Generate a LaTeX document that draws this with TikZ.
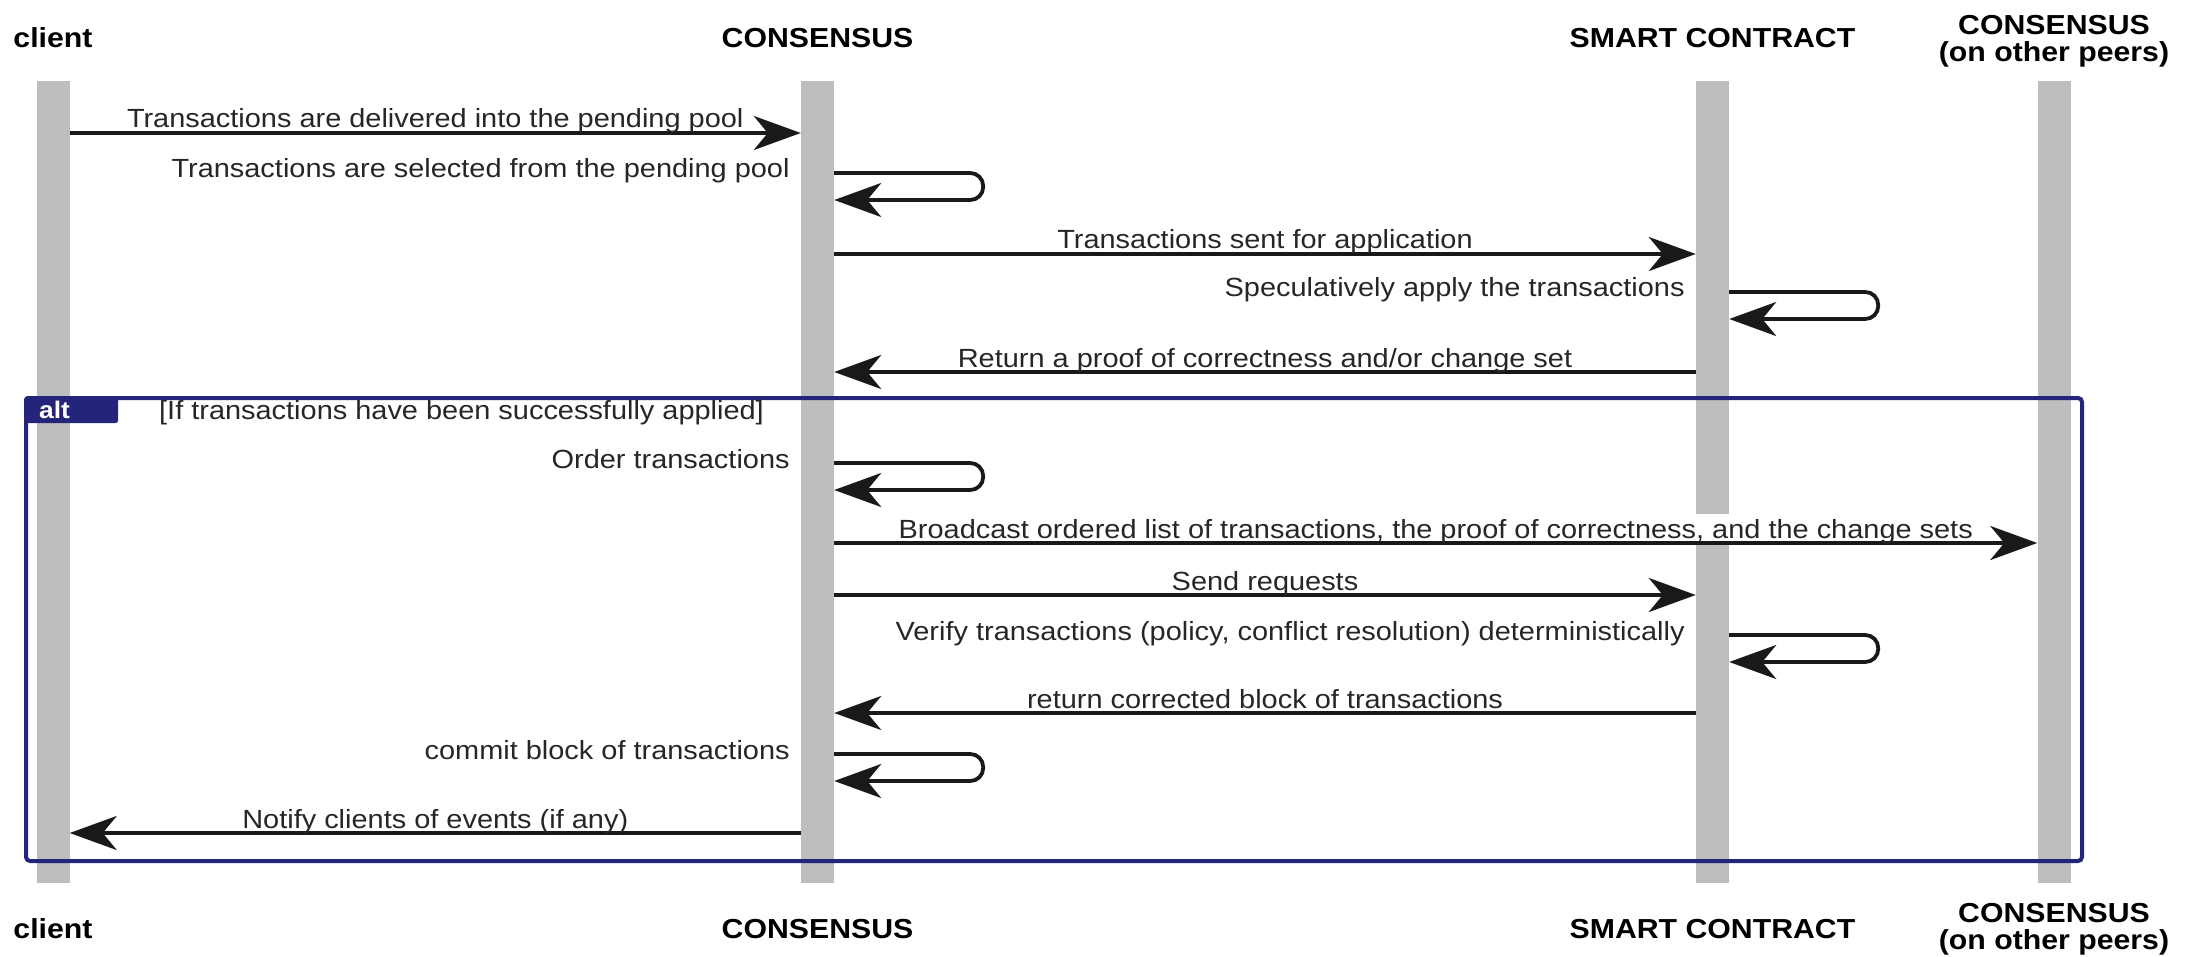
\documentclass[tikz,border=0pt]{standalone}
\usepackage{fontspec}
\setmainfont{Liberation Sans}
\newfontfamily\labfont[FakeStretch=1.1]{Liberation Sans}
\usetikzlibrary{arrows.meta}

\definecolor{lifegray}{RGB}{190,190,190}
\definecolor{framenavy}{RGB}{36,36,122}
\definecolor{ink}{RGB}{25,25,25}
\definecolor{textink}{RGB}{38,38,38}

\tikzset{
  lifebar/.style={fill=lifegray, draw=none, minimum width=33pt, inner sep=0pt},
  msg/.style={draw=ink, line width=3.8pt,
    -{Stealth[length=47pt,width=34pt,inset=14pt]}},
  selfmsg/.style={msg, rounded corners=13pt},
  msglabel/.style={font=\labfont\fontsize{26.3}{30}\selectfont, text=textink,
    inner sep=0pt, anchor=base},
  steplabel/.style={msglabel, anchor=base east, xshift=-11pt, yshift=-5pt},
  head/.style={font=\labfont\bfseries\fontsize{27.5}{27}\selectfont,
    align=center, inner sep=0pt},
  altframe/.style={draw=framenavy, line width=4pt, rounded corners=4pt,
    inner sep=0pt, anchor=north west},
  alttabstyle/.style={fill=framenavy, inner sep=0pt, rounded corners=3pt,
    anchor=north west},
  altword/.style={font=\labfont\bfseries\fontsize{24}{26}\selectfont,
    text=white, inner sep=0pt, anchor=west},
}

\begin{document}
\begin{tikzpicture}[x=1pt, y=-1pt]
\useasboundingbox (0,0) rectangle (2202,957);

% lifelines
\node[lifebar, minimum height=802pt] (client) at (53,482) {};
\node[lifebar, minimum height=802pt] (cons) at (817.5,482) {};
\node[lifebar, minimum height=433pt] (sctop) at (1712.5,297.5) {};
\node[lifebar, minimum height=340pt] (scbot) at (1712.5,713) {};
\node[lifebar, minimum height=802pt] (peers) at (2054,482) {};

% participant names, top and bottom
\node[head] (hclient) at (53,38) {client};
\node[head] (hcons) at (817.5,38) {CONSENSUS};
\node[head] (hsc) at (1712.5,38) {SMART CONTRACT};
\node[head] (hpeers) at (2054,41) {CONSENSUS\\(on other peers)};
\node[head] (fclient) at (53,929) {client};
\node[head] (fcons) at (817.5,929) {CONSENSUS};
\node[head] (fsc) at (1712.5,929) {SMART CONTRACT};
\node[head] (fpeers) at (2054,929) {CONSENSUS\\(on other peers)};

% message levels
\coordinate (r1) at (0,133);
\coordinate (s1a) at (0,173); \coordinate (s1b) at (0,200);
\coordinate (r2) at (0,254);
\coordinate (s2a) at (0,292); \coordinate (s2b) at (0,319);
\coordinate (r3) at (0,372);
\coordinate (s3a) at (0,463); \coordinate (s3b) at (0,490);
\coordinate (r4) at (0,543);
\coordinate (r5) at (0,595);
\coordinate (s4a) at (0,635); \coordinate (s4b) at (0,662);
\coordinate (r6) at (0,713);
\coordinate (s5a) at (0,754); \coordinate (s5b) at (0,781);
\coordinate (r7) at (0,833);

% alt fragment
\node[altframe, minimum width=2056pt, minimum height=463pt] (altbox) at (24,396) {};
\node[alttabstyle, minimum width=94pt, minimum height=27pt] (alttab) at (altbox.north west) {};
\node[altword, xshift=15pt] (altlabel) at (alttab.west) {alt};
\node[msglabel, anchor=base west] (guard) at (159,419)
  {[If transactions have been successfully applied]};

% messages
\draw[msg] (client.east |- r1) --
  node[msglabel, yshift=5pt] (t1) {Transactions are delivered into the pending pool}
  (cons.west |- r1);

\draw[selfmsg] (cons.east |- s1a) -- ++(149,0) -- ++(0,27) -- (cons.east |- s1b);
\node[steplabel] (t2) at (cons.west |- s1a) {Transactions are selected from the pending pool};

\draw[msg] (cons.east |- r2) --
  node[msglabel, yshift=5pt] (t3) {Transactions sent for application}
  (sctop.west |- r2);

\draw[selfmsg] (sctop.east |- s2a) -- ++(149,0) -- ++(0,27) -- (sctop.east |- s2b);
\node[steplabel] (t4) at (sctop.west |- s2a) {Speculatively apply the transactions};

\draw[msg] (sctop.west |- r3) --
  node[msglabel, yshift=5pt] (t5) {Return a proof of correctness and/or change set}
  (cons.east |- r3);

\draw[selfmsg] (cons.east |- s3a) -- ++(149,0) -- ++(0,27) -- (cons.east |- s3b);
\node[steplabel] (t6) at (cons.west |- s3a) {Order transactions};

\draw[msg] (cons.east |- r4) --
  node[msglabel, yshift=5pt] (t7) {Broadcast ordered list of transactions, the proof of correctness, and the change sets}
  (peers.west |- r4);

\draw[msg] (cons.east |- r5) --
  node[msglabel, yshift=5pt] (t8) {Send requests}
  (scbot.west |- r5);

\draw[selfmsg] (scbot.east |- s4a) -- ++(149,0) -- ++(0,27) -- (scbot.east |- s4b);
\node[steplabel] (t9) at (scbot.west |- s4a) {Verify transactions (policy, conflict resolution) deterministically};

\draw[msg] (scbot.west |- r6) --
  node[msglabel, yshift=5pt] (t10) {return corrected block of transactions}
  (cons.east |- r6);

\draw[selfmsg] (cons.east |- s5a) -- ++(149,0) -- ++(0,27) -- (cons.east |- s5b);
\node[steplabel] (t11) at (cons.west |- s5a) {commit block of transactions};

\draw[msg] (cons.west |- r7) --
  node[msglabel, yshift=5pt] (t12) {Notify clients of events (if any)}
  (client.east |- r7);
\end{tikzpicture}
\end{document}
